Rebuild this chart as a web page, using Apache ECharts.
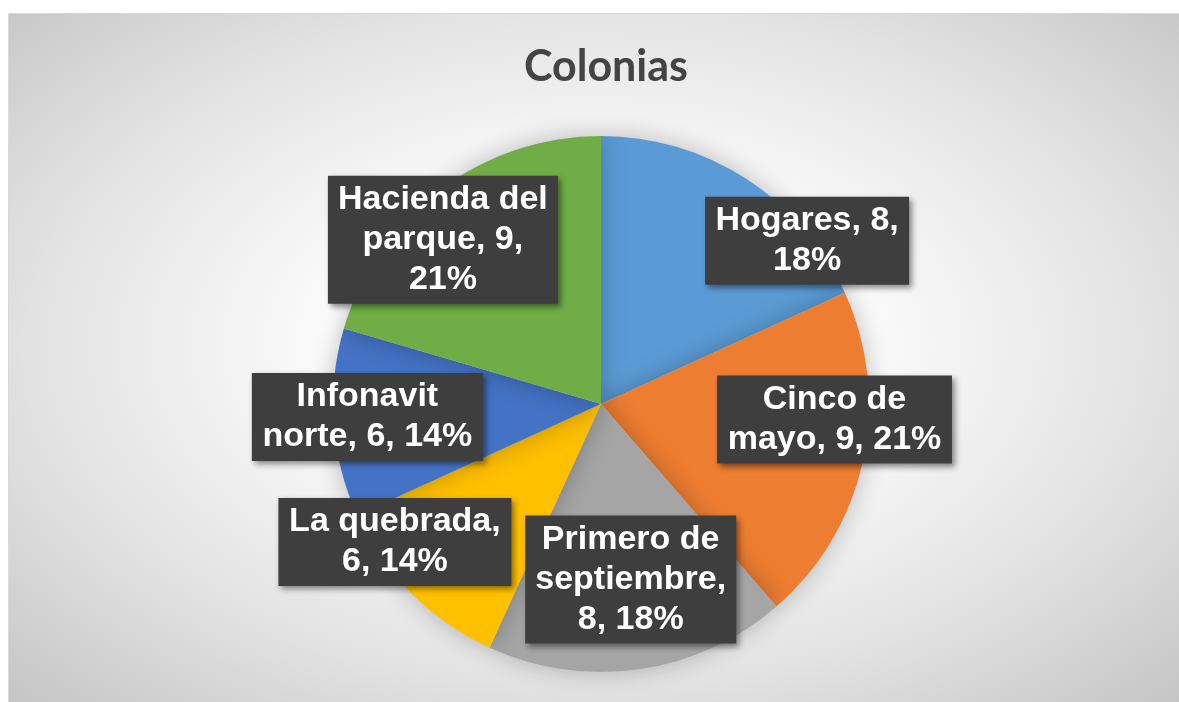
<!DOCTYPE html>
<html lang="es">
<head>
  <meta charset="UTF-8">
  <title>Colonias</title>
  <style>
    html, body { margin: 0; padding: 0; background: #ffffff; }
    #main {
      position: absolute;
      left: 8px;
      top: 13px;
      width: 1170px;
      height: 688px;
      border: 1px solid #d9d9d9;
      background: radial-gradient(ellipse at 50% 48%, #ffffff 0%, #fbfbfb 32%, #e2e2e2 68%, #c5c5c5 100%);
    }
  </style>
</head>
<body>
  <div id="main"></div>

  <script src="https://cdn.jsdelivr.net/npm/echarts@6/dist/echarts.min.js"></script>
  <script>
    // slice sizes
    var categories = ['Hogares', 'Cinco de mayo', 'Primero de septiembre', 'La quebrada', 'Infonavit norte', 'Hacienda del parque'];
    var values = [8, 9, 8, 5, 5, 9];
    // numbers printed in the data labels
    var labelValues = [8, 9, 8, 6, 6, 9];
    var labelPercents = [18, 21, 18, 14, 14, 21];
    var colors = ['#5b9bd5', '#ed7d31', '#a5a5a5', '#ffc000', '#4472c4', '#70ad47'];

    // label box placement: angle (deg, clockwise from top) and distance from pie centre
    var labelAngles = [51.6, 93.8, 170.4, 236.2, 266.8, 316.1];
    var labelDist = [263, 234, 178, 248, 234, 228];
    var labelWidths = [188, 219, 195, 217, 215, 214];

    var cx = 592, cy = 390;
    var labelFont = 'bold 34px "Liberation Sans"';

    // word wrap without trailing spaces, so every line centres properly
    var ctx = document.createElement('canvas').getContext('2d');
    function wrap(text, maxW) {
      ctx.font = labelFont;
      var words = text.split(' ');
      var lines = [];
      var line = '';
      words.forEach(function (w) {
        var test = line ? line + ' ' + w : w;
        if (line && ctx.measureText(test).width > maxW) {
          lines.push(line);
          line = w;
        } else {
          line = test;
        }
      });
      lines.push(line);
      return lines.join('\n');
    }

    window.onload = function () {
      var myChart = echarts.init(document.getElementById('main'));

      var data = categories.map(function (name, i) {
        return {
          name: name,
          value: values[i],
          itemStyle: { color: colors[i] },
          label: { width: labelWidths[i] }
        };
      });

      var option = {
        title: {
          text: 'Colonias',
          left: cx,
          top: 27,
          textAlign: 'center',
          textStyle: {
            fontFamily: 'Lato',
            fontWeight: 'bold',
            fontSize: 43,
            color: '#444444'
          }
        },
        series: [
          {
            type: 'pie',
            center: [cx, cy],
            radius: 268,
            startAngle: 90,
            clockwise: true,
            avoidLabelOverlap: false,
            animation: false,
            itemStyle: {
              shadowBlur: 25,
              shadowColor: 'rgba(0, 0, 0, 0.25)'
            },
            labelLine: { show: false },
            label: {
              show: true,
              position: 'inside',
              formatter: function (p) {
                var i = p.dataIndex;
                return wrap(p.name + ', ' + labelValues[i] + ', ' + labelPercents[i] + '%', labelWidths[i]);
              },
              align: 'center',
              fontFamily: 'Liberation Sans',
              fontWeight: 'bold',
              fontSize: 34,
              lineHeight: 40,
              color: '#ffffff',
              backgroundColor: '#3e3e3e',
              padding: [4, 8],
              shadowColor: 'rgba(0, 0, 0, 0.45)',
              shadowBlur: 6,
              shadowOffsetX: 3,
              shadowOffsetY: 3
            },
            labelLayout: function (params) {
              var i = params.dataIndex;
              var a = labelAngles[i] * Math.PI / 180;
              return {
                x: cx + labelDist[i] * Math.sin(a),
                y: cy - labelDist[i] * Math.cos(a),
                align: 'center',
                verticalAlign: 'middle'
              };
            },
            data: data
          }
        ]
      };

      myChart.setOption(option);
    };
  </script>
</body>
</html>
